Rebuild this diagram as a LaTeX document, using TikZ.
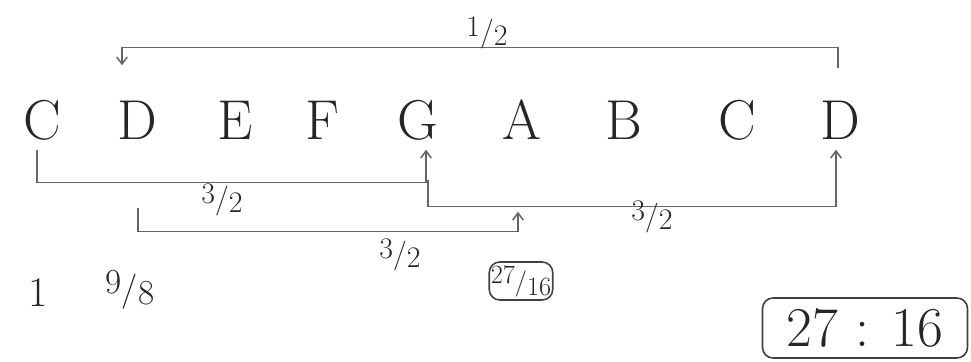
\documentclass[tikz,border=0pt]{standalone}
\usetikzlibrary{arrows.meta,calc}
\begin{document}
\begin{tikzpicture}[x=0.02cm,y=-0.02cm,
  note/.style={inner sep=0pt,text height=22pt,text depth=0pt,text=black!85,font=\fontsize{32}{36}\selectfont},
  ratio/.style={inner sep=1pt,text=black!85,font=\fontsize{17}{19}\selectfont},
  big/.style={inner sep=1pt,text=black!85,font=\fontsize{24}{28}\selectfont},
  link/.style={draw=black!60,line width=0.9pt,-{Straight Barb[length=4pt,width=6pt]}},
  frame/.style={draw=black!75,line width=0.9pt,rounded corners=6pt}]
\useasboundingbox (0,0) rectangle (971,362);
% notes
\node[note] (c1) at (42,120) {C};
\node[note] (d1) at (137,120) {D};
\node[note] (e)  at (235,120) {E};
\node[note] (f)  at (322,120) {F};
\node[note] (g)  at (418,120) {G};
\node[note] (a)  at (522,120) {A};
\node[note] (b)  at (624,120) {B};
\node[note] (c2) at (737,120) {C};
\node[note] (d2) at (840,120) {D};
% brackets
\draw[link] ($(d2.north)+(-2,-32)$) -- ++(0,-21) -| ($(d1.north)+(-15,-35)$);
\draw[link] ($(c1.south)+(-5,10)$) -- ++(0,33) -| ($(g.south)+(8,10)$);
\draw[link] ($(g.south)+(10,40)$) -- ++(0,27) -| ($(d2.south)+(-4,10)$);
\draw[link] ($(d1.south)+(1,68)$) -- ++(0,24) -| ($(a.south)+(-4,72)$);
% ratio labels
\node[ratio] (half) at (487,33) {\raisebox{3pt}{1}/\raisebox{-2pt}{2}};
\node[ratio] (r1) at (222,200) {\raisebox{3pt}{3}/\raisebox{-2pt}{2}};
\node[ratio] (r2) at (652,217) {\raisebox{3pt}{3}/\raisebox{-2pt}{2}};
\node[ratio] (r3) at (400,255) {\raisebox{3pt}{3}/\raisebox{-2pt}{2}};
% bottom values
\node[big] (one) at (38,293) {1};
\node[big,font=\fontsize{20}{22}\selectfont] (nine) at (130,290) {\raisebox{4pt}{9}/\raisebox{-2pt}{8}};
\node[frame,text=black!85,font=\fontsize{15}{17}\selectfont,minimum width=1.27cm,minimum height=0.76cm,inner sep=0pt] (sixt) at (521,281) {\raisebox{4pt}{27}/\raisebox{-3pt}{16}};
\node[frame,text=black!85,font=\fontsize{32}{36}\selectfont,minimum width=4.1cm,minimum height=1.2cm,inner sep=0pt] (res) at (865,328) {27 : 16};
\end{tikzpicture}
\end{document}
